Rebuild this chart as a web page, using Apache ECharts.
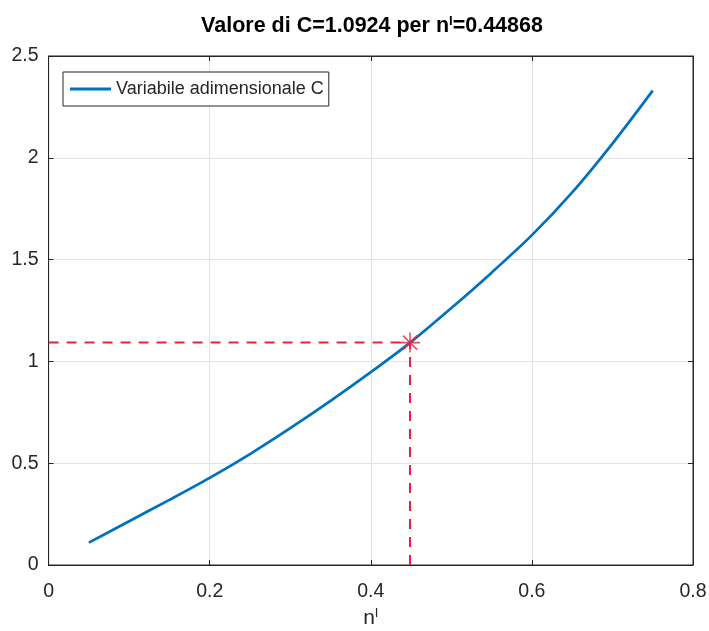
<!DOCTYPE html>
<html>
<head>
<meta charset="utf-8">
<title>Valore di C</title>
<script src="https://cdn.jsdelivr.net/npm/echarts@6/dist/echarts.min.js"></script>
<style>
  html, body { margin: 0; padding: 0; background: #ffffff; }
  #chart { width: 709px; height: 631px; }
</style>
</head>
<body>
<div id="chart"></div>
<script>
// Porosity n' and the dimensionless variable C
const nValues = [0.05, 0.10, 0.15, 0.20, 0.25, 0.30, 0.35, 0.40, 0.45, 0.50, 0.55, 0.60, 0.65, 0.70, 0.75];
const cValues = [0.11, 0.215, 0.32, 0.428, 0.545, 0.672, 0.806, 0.947, 1.096, 1.262, 1.436, 1.62, 1.83, 2.07, 2.33];

// Selected point
const nSel = 0.44868;
const cSel = 1.0924;

const xTicks = [0, 0.2, 0.4, 0.6, 0.8];
const yTicks = [0, 0.5, 1, 1.5, 2, 2.5];

const axisColor = '#262626';
const gridColor = '#e3e3e3';
const lineBlue = '#0072BD';
const markRed = '#e8213f';
const font = '"Liberation Sans", Arial, Helvetica, sans-serif';

const chart = echarts.init(document.getElementById('chart'), null, { renderer: 'canvas' });

const tickInside = { show: true, inside: true, length: 5, lineStyle: { color: axisColor, width: 1 } };

const option = {
  animation: false,
  backgroundColor: '#ffffff',
  title: {
    text: '{t|Valore di C=1.0924 per n}{s|I}{t|=0.44868}',
    left: 367,
    textAlign: 'center',
    top: 10,
    textStyle: {
      rich: {
        t: { fontFamily: font, fontWeight: 'bold', fontSize: 21.5, color: '#000000' },
        s: { fontFamily: font, fontWeight: 'bold', fontSize: 13, color: '#000000', verticalAlign: 'top', padding: [0, 0, 9, 0] }
      }
    }
  },
  legend: {
    left: 63,
    top: 72,
    orient: 'vertical',
    backgroundColor: '#ffffff',
    borderColor: axisColor,
    borderWidth: 1,
    borderRadius: 0,
    padding: [7, 5, 7, 7],
    itemWidth: 41,
    itemHeight: 3,
    itemGap: 0,
    textStyle: { fontFamily: font, fontSize: 18, color: axisColor, lineHeight: 20 },
    data: [{ name: 'Variabile adimensionale C', icon: 'rect', itemStyle: { color: lineBlue } }]
  },
  grid: {
    left: 48.6,
    right: 16,
    top: 56,
    bottom: 66,
    outerBoundsMode: 'none',
    containLabel: false,
    show: true,
    borderColor: axisColor,
    borderWidth: 1,
    backgroundColor: 'transparent'
  },
  xAxis: [
    {
      type: 'value',
      min: 0,
      max: 0.8,
      interval: 0.2,
      position: 'bottom',
      name: '{a|n}{b|I}',
      nameLocation: 'middle',
      nameGap: 39,
      nameTextStyle: {
        rich: {
          a: { fontFamily: font, fontSize: 21, color: axisColor },
          b: { fontFamily: font, fontSize: 13, color: axisColor, verticalAlign: 'top', padding: [0, 0, 10, 0] }
        }
      },
      axisLine: { show: true, onZero: false, lineStyle: { color: axisColor, width: 1 } },
      axisTick: tickInside,
      axisLabel: {
        margin: 17,
        fontFamily: font,
        fontSize: 19.5,
        color: axisColor,
        formatter: v => String(xTicks.find(t => Math.abs(t - v) < 1e-9) ?? v)
      },
      splitLine: { show: true, lineStyle: { color: gridColor, width: 1 } }
    },
    {
      type: 'value',
      min: 0,
      max: 0.8,
      interval: 0.2,
      position: 'top',
      axisLine: { show: true, onZero: false, lineStyle: { color: axisColor, width: 1 } },
      axisTick: tickInside,
      axisLabel: { show: false },
      splitLine: { show: false }
    }
  ],
  yAxis: [
    {
      type: 'value',
      min: 0,
      max: 2.5,
      interval: 0.5,
      position: 'left',
      axisLine: { show: true, onZero: false, lineStyle: { color: axisColor, width: 1 } },
      axisTick: tickInside,
      axisLabel: {
        margin: 10,
        fontFamily: font,
        fontSize: 19.5,
        color: axisColor,
        formatter: v => String(yTicks.find(t => Math.abs(t - v) < 1e-9) ?? v)
      },
      splitLine: { show: true, lineStyle: { color: gridColor, width: 1 } }
    },
    {
      type: 'value',
      min: 0,
      max: 2.5,
      interval: 0.5,
      position: 'right',
      axisLine: { show: true, onZero: false, lineStyle: { color: axisColor, width: 1 } },
      axisTick: tickInside,
      axisLabel: { show: false },
      splitLine: { show: false }
    }
  ],
  series: [
    {
      name: 'Variabile adimensionale C',
      type: 'line',
      xAxisIndex: 0,
      yAxisIndex: 0,
      data: nValues.map((n, i) => [n, cValues[i]]),
      smooth: 0.3,
      symbol: 'none',
      lineStyle: { color: lineBlue, width: 2.7 },
      itemStyle: { color: lineBlue },
      z: 3
    },
    {
      name: 'guida orizzontale',
      type: 'line',
      data: [[0, cSel], [nSel, cSel]],
      symbol: 'none',
      lineStyle: { color: markRed, width: 2, type: [10, 8] },
      z: 4
    },
    {
      name: 'guida verticale',
      type: 'line',
      data: [[nSel, 0], [nSel, cSel]],
      symbol: 'none',
      lineStyle: { color: markRed, width: 2, type: [10, 8] },
      z: 4
    },
    {
      name: 'punto',
      type: 'scatter',
      data: [[nSel, cSel]],
      symbol: 'path://M10,0 L10,20 M0,10 L20,10 M3,3 L17,17 M3,17 L17,3',
      symbolSize: 20,
      itemStyle: { color: 'rgba(0,0,0,0)', borderColor: markRed, borderWidth: 1.6 },
      z: 5
    }
  ]
};

chart.setOption(option);
</script>
</body>
</html>
